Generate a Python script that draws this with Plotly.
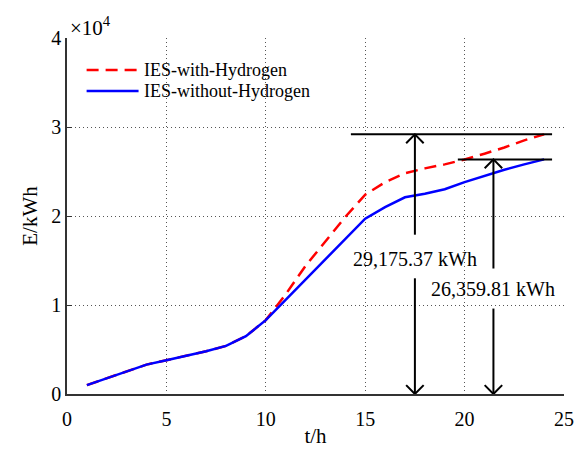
import plotly.graph_objects as go

# ---- data ----
hours = list(range(1, 25))
ies_with_h2 = [1000, 1770, 2540, 3300, 3800, 4300, 4800, 5400, 6500, 8300,
               11200, 14400, 17200, 19900, 22400, 23800, 24800, 25350, 25800,
               26350, 27000, 27700, 28500, 29175.37]
ies_without_h2 = [1000, 1770, 2540, 3300, 3800, 4300, 4800, 5400, 6500, 8300,
                  10600, 12900, 15200, 17500, 19700, 21000, 22100, 22500, 23000,
                  23800, 24500, 25200, 25800, 26359.81]
series_names = ["IES-with-Hydrogen", "IES-without-Hydrogen"]
x_ticks = [0, 5, 10, 15, 20, 25]
y_ticks = [0, 10000, 20000, 30000, 40000]
y_tick_labels = ["0", "1", "2", "3", "4"]
peak_labels = ["29,175.37 kWh", "26,359.81 kWh"]

FONT = "Liberation Serif, Times New Roman, serif"
RED = "#ff0000"
BLUE = "#0000ff"
GRID = "#555555"
AXIS = "#333333"

fig = go.Figure()
fig.add_trace(go.Scatter(x=hours, y=ies_with_h2, mode="lines", name=series_names[0],
                         line=dict(color=RED, width=2.5, dash="12px,7px"), showlegend=False))
fig.add_trace(go.Scatter(x=hours, y=ies_without_h2, mode="lines", name=series_names[1],
                         line=dict(color=BLUE, width=2.5), showlegend=False))

shapes = []
annotations = []

peaks = [ies_with_h2[-1], ies_without_h2[-1]]
arrow_x = [17.5, 21.45]
hline_x0 = [14.28, 19.66]
hline_x1 = 24.4
label_y = [15200, 11800]
gap_top = [17900, 14100]
gap_bot = [13000, 9600]
hw, hh = 0.44, 1000
blk = dict(color="black", width=2)
for i in range(2):
    pk = peaks[i]
    ax = arrow_x[i]
    shapes.append(dict(type="line", xref="x", yref="y", x0=hline_x0[i], x1=hline_x1, y0=pk, y1=pk, line=blk))
    shapes.append(dict(type="line", xref="x", yref="y", x0=ax, x1=ax, y0=gap_top[i], y1=pk, line=blk))
    shapes.append(dict(type="path", xref="x", yref="y",
                       path=f"M{ax-hw},{pk-hh} L{ax},{pk} L{ax+hw},{pk-hh}", line=blk))
    shapes.append(dict(type="line", xref="x", yref="y", x0=ax, x1=ax, y0=gap_bot[i], y1=0, line=blk))
    shapes.append(dict(type="path", xref="x", yref="y",
                       path=f"M{ax-hw},{hh} L{ax},0 L{ax+hw},{hh}", line=blk))
    annotations.append(dict(x=ax, y=label_y[i], xref="x", yref="y", text=peak_labels[i],
                            showarrow=False, font=dict(family=FONT, size=20, color="black"),
                            xanchor="center", yanchor="middle"))

# manual legend (pixel-like paper coordinates)
W, H = 585, 457
L, R, T, B = 67, 11, 38, 63
pw, ph = W - L - R, H - T - B
def px(xp):
    return (xp - L) / pw
def py(yp):
    return (H - B - yp) / ph

leg_rows = [70, 91]
leg_styles = [dict(color=RED, width=2.5, dash="12px,7px"), dict(color=BLUE, width=2.5)]
for i in range(2):
    shapes.append(dict(type="line", xref="paper", yref="paper", x0=px(87), x1=px(140),
                       y0=py(leg_rows[i]), y1=py(leg_rows[i]), line=leg_styles[i]))
    annotations.append(dict(x=px(144), y=py(leg_rows[i]), xref="paper", yref="paper",
                            text=series_names[i], showarrow=False, xanchor="left", yanchor="middle",
                            font=dict(family=FONT, size=18, color="black")))

annotations.append(dict(x=px(68), y=py(27), xref="paper", yref="paper", text="×10<sup>4</sup>",
                        showarrow=False, xanchor="left", yanchor="middle",
                        font=dict(family=FONT, size=21, color="black")))

fig.update_layout(
    width=W, height=H,
    margin=dict(l=L, r=R, t=T, b=B),
    paper_bgcolor="white", plot_bgcolor="white",
    font=dict(family=FONT, size=20, color="black"),
    shapes=shapes, annotations=annotations,
    showlegend=False,
)
fig.update_xaxes(range=[0, 25], tickvals=x_ticks, showgrid=True, gridcolor=GRID, griddash="1px,3px",
                 gridwidth=1, showline=True, linecolor=AXIS, linewidth=1.5, ticks="outside",
                 ticklen=6, tickcolor="rgba(0,0,0,0)", zeroline=False,
                 title=dict(text="t/h", font=dict(family=FONT, size=21), standoff=0),
                 tickfont=dict(family=FONT, size=20))
fig.update_yaxes(range=[0, 40000], tickvals=y_ticks, ticktext=y_tick_labels, showgrid=True,
                 gridcolor=GRID, griddash="1px,3px", gridwidth=1, showline=True, linecolor=AXIS,
                 linewidth=1.5, ticks="inside", ticklen=5, tickcolor=AXIS, zeroline=False,
                 title=dict(text="E/kWh", font=dict(family=FONT, size=21), standoff=8),
                 tickfont=dict(family=FONT, size=20))

fig.write_html("out.html")
